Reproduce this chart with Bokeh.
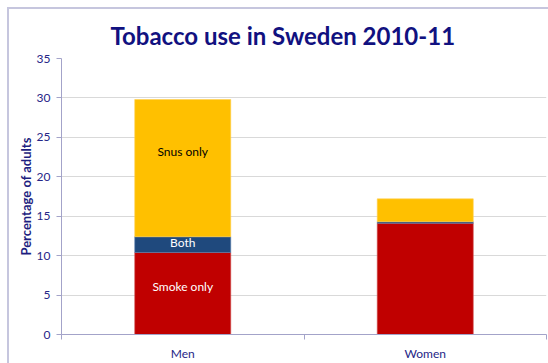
from bokeh.plotting import figure
from bokeh.models import FixedTicker, ColumnDataSource, InlineStyleSheet
from bokeh.core.properties import value
from bokeh.embed import file_html
from bokeh.resources import INLINE

categories = ["Men", "Women"]
smoke_only = [10.4, 14.1]
both = [2.0, 0.2]
snus_only = [17.4, 2.9]
y_ticks = [0, 5, 10, 15, 20, 25, 30, 35]

NAVY = "#262687"
AXIS = "#a3a3c9"
FONT = "Lato"

x = [i + 0.5 for i in range(len(categories))]
t1 = [a for a in smoke_only]
t2 = [a + b for a, b in zip(smoke_only, both)]
t3 = [a + b + c for a, b, c in zip(smoke_only, both, snus_only)]

css = InlineStyleSheet(css=":host { border-left: 2px solid #c6c6de; border-top: 2px solid #c6c6de; }")

p = figure(width=541, height=356, x_range=(0, len(categories)), y_range=(0, 35),
           output_backend="svg", toolbar_location=None, margin=(7, 0, 0, 7),
           min_border_left=52, min_border_top=49, min_border_right=4, min_border_bottom=31,
           stylesheets=[css])
p.outline_line_color = None
p.background_fill_color = "white"
p.border_fill_color = "white"

src = ColumnDataSource(dict(x=x, z=[0] * len(x), t1=t1, t2=t2, t3=t3))
p.vbar(x="x", bottom="z", top="t1", width=0.396, source=src, fill_color="#C00000", line_color="#d05050", line_width=0.6)
p.vbar(x="x", bottom="t1", top="t2", width=0.396, source=src, fill_color="#1F497D", line_color="#5a7fb0", line_width=0.6)
p.vbar(x="x", bottom="t2", top="t3", width=0.396, source=src, fill_color="#FFC000", line_color="#ffd050", line_width=0.6)

# segment labels for Men
p.text(x=[x[0]], y=[(t2[0] + t3[0]) / 2], text=["Snus only"], text_align="center", text_baseline="middle",
       text_font=value(FONT), text_font_size="12px", text_color="black", y_offset=-17)
p.text(x=[x[0]], y=[(t1[0] + t2[0]) / 2], text=["Both"], text_align="center", text_baseline="middle",
       text_font=value(FONT), text_font_size="12px", text_color="white", y_offset=-2)
p.text(x=[x[0]], y=[t1[0] / 2], text=["Smoke only"], text_align="center", text_baseline="middle",
       text_font=value(FONT), text_font_size="12px", text_color="white", y_offset=-7)

p.xgrid.visible = False
p.ygrid.grid_line_color = "#d9d9d9"
p.ygrid.ticker = FixedTicker(ticks=y_ticks)

p.yaxis.ticker = FixedTicker(ticks=y_ticks)
p.yaxis.axis_line_color = AXIS
p.yaxis.major_tick_line_color = AXIS
p.yaxis.major_tick_out = 5
p.yaxis.major_tick_in = 0
p.yaxis.minor_tick_line_color = None
p.yaxis.major_label_text_color = NAVY
p.yaxis.major_label_text_font = FONT
p.yaxis.major_label_text_font_size = "12px"
p.yaxis.major_label_standoff = 6
p.yaxis.axis_label = "Percentage of adults"
p.yaxis.axis_label_text_font = FONT
p.yaxis.axis_label_text_font_style = "bold"
p.yaxis.axis_label_text_font_size = "13px"
p.yaxis.axis_label_text_color = "#1e1e80"
p.yaxis.axis_label_standoff = 0

p.xaxis.ticker = FixedTicker(ticks=x, minor_ticks=list(range(len(categories) + 1)))
p.xaxis.major_label_overrides = {xx: c for xx, c in zip(x, categories)}
p.xaxis.axis_line_color = AXIS
p.xaxis.major_tick_line_color = None
p.xaxis.minor_tick_line_color = AXIS
p.xaxis.minor_tick_out = 5
p.xaxis.minor_tick_in = 0
p.xaxis.major_label_text_color = NAVY
p.xaxis.major_label_text_font = FONT
p.xaxis.major_label_text_font_size = "12px"
p.xaxis.major_label_standoff = 5

p.title.text = "Tobacco use in Sweden 2010-11"
p.title.align = "left"
p.title.offset = 49
p.title.text_font = FONT
p.title.text_font_style = "bold"
p.title.text_font_size = "24px"
p.title.text_color = "#111180"
p.title.standoff = 17

open("out.html", "w").write(file_html(p, INLINE))
